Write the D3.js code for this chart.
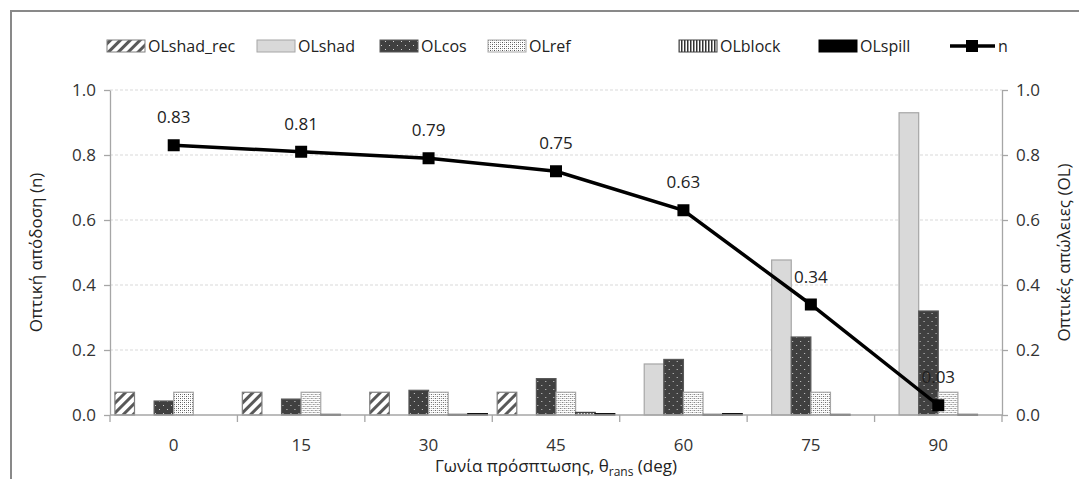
<!DOCTYPE html>
<html>
<head>
<meta charset="utf-8">
<script src="https://cdn.jsdelivr.net/npm/d3@7"></script>
<style>
  html, body { margin: 0; padding: 0; background: #fff; }
  svg { display: block; font-family: "Open Sans", "Noto Sans", sans-serif; }
</style>
</head>
<body>
<svg id="chart" width="1079" height="479"></svg>
<script>
// Incidence angles (deg)
const categories = ["0", "15", "30", "45", "60", "75", "90"];

// Optical loss components (right axis)
const OLshad_rec = [0.07, 0.07, 0.07, 0.07, 0, 0, 0];
const OLshad     = [0, 0, 0, 0, 0.157, 0.477, 0.93];
const OLcos      = [0.043, 0.049, 0.076, 0.112, 0.171, 0.24, 0.32];
const OLref      = [0.07, 0.07, 0.07, 0.07, 0.07, 0.07, 0.07];
const OLblock    = [0, 0.002, 0.002, 0.008, 0.002, 0.002, 0.002];
const OLspill    = [0, 0, 0.004, 0.004, 0.004, 0, 0];

// Optical efficiency (left axis)
const nValues = [0.83, 0.81, 0.79, 0.75, 0.63, 0.34, 0.03];

const yTicks = [0, 0.2, 0.4, 0.6, 0.8, 1.0];

const seriesNames = ["OLshad_rec", "OLshad", "OLcos", "OLref", "OLblock", "OLspill"];
const seriesValues = [OLshad_rec, OLshad, OLcos, OLref, OLblock, OLspill];
const seriesFill = ["url(#pHatch)", "#d9d9d9", "url(#pCos)", "url(#pRef)", "url(#pBlock)", "#000"];
const seriesStroke = ["#7f7f7f", "#a6a6a6", "#595959", "#a6a6a6", "#404040", "#000"];

const svg = d3.select("#chart");
const defs = svg.append("defs");

// Wide upward diagonal hatch
const ph = defs.append("pattern").attr("id", "pHatch").attr("patternUnits", "userSpaceOnUse")
  .attr("width", 7).attr("height", 7).attr("patternTransform", "rotate(45)");
ph.append("rect").attr("width", 7).attr("height", 7).attr("fill", "#fff");
ph.append("rect").attr("x", 0).attr("width", 3).attr("height", 7).attr("fill", "#595959");

// Dark fill with sparse light dots
const pc = defs.append("pattern").attr("id", "pCos").attr("patternUnits", "userSpaceOnUse")
  .attr("width", 8).attr("height", 8);
pc.append("rect").attr("width", 8).attr("height", 8).attr("fill", "#404040");
pc.append("rect").attr("x", 1).attr("y", 1).attr("width", 1).attr("height", 1).attr("fill", "#d0d0d0");
pc.append("rect").attr("x", 5).attr("y", 5).attr("width", 1).attr("height", 1).attr("fill", "#d0d0d0");

// Light fill with dense dark dots
const pr = defs.append("pattern").attr("id", "pRef").attr("patternUnits", "userSpaceOnUse")
  .attr("width", 4).attr("height", 4);
pr.append("rect").attr("width", 4).attr("height", 4).attr("fill", "#fff");
pr.append("rect").attr("x", 0).attr("y", 0).attr("width", 1).attr("height", 1).attr("fill", "#555");
pr.append("rect").attr("x", 2).attr("y", 2).attr("width", 1).attr("height", 1).attr("fill", "#555");
pr.append("rect").attr("x", 2).attr("y", 0).attr("width", 1).attr("height", 1).attr("fill", "#aaa");
pr.append("rect").attr("x", 0).attr("y", 2).attr("width", 1).attr("height", 1).attr("fill", "#aaa");

// Narrow vertical stripes
const pb = defs.append("pattern").attr("id", "pBlock").attr("patternUnits", "userSpaceOnUse")
  .attr("width", 3).attr("height", 3);
pb.append("rect").attr("width", 3).attr("height", 3).attr("fill", "#fff");
pb.append("rect").attr("width", 1.5).attr("height", 3).attr("fill", "#333");

// Outer chart frame
svg.append("rect").attr("x", 11).attr("y", 11).attr("width", 1100).attr("height", 500)
  .attr("fill", "none").attr("stroke", "#898989").attr("stroke-width", 2);

const plot = { left: 110, right: 1002, top: 90, bottom: 415 };

const x0 = d3.scaleBand().domain(categories).range([plot.left, plot.right]).padding(0);
const x1 = d3.scaleBand().domain(seriesNames).range([0, x0.bandwidth()])
  .paddingInner(0).paddingOuter(0.25);
const yL = d3.scaleLinear().domain([0, 1]).range([plot.bottom, plot.top]);
const yR = d3.scaleLinear().domain([0, 1]).range([plot.bottom, plot.top]);

// Gridlines
svg.append("g").selectAll("line").data(yTicks.filter(d => d > 0)).join("line")
  .attr("x1", plot.left).attr("x2", plot.right)
  .attr("y1", d => yL(d)).attr("y2", d => yL(d))
  .attr("stroke", "#d9d9d9").attr("stroke-width", 1).attr("stroke-dasharray", "3,2");

// Bars
const groups = svg.append("g").selectAll("g").data(categories).join("g")
  .attr("transform", c => `translate(${x0(c)},0)`);
groups.selectAll("rect")
  .data((c, i) => seriesNames.map((s, k) => ({ s, k, v: seriesValues[k][i] })))
  .join("rect")
  .filter(d => d.v > 0)
  .attr("x", d => x1(d.s))
  .attr("width", x1.bandwidth())
  .attr("y", d => yR(d.v))
  .attr("height", d => Math.max(1, yR(0) - yR(d.v)))
  .attr("fill", d => seriesFill[d.k])
  .attr("stroke", d => seriesStroke[d.k])
  .attr("stroke-width", 1.2);

// Axes
const axisStyle = g => {
  g.selectAll("path.domain").attr("stroke", "#a6a6a6").attr("stroke-width", 1.3);
  g.selectAll(".tick line").attr("stroke", "#a6a6a6").attr("stroke-width", 1.3);
  g.selectAll("text").attr("fill", "#333").style("font-size", "17px")
    .style("font-family", "'Open Sans', 'Noto Sans', sans-serif");
};

svg.append("g").attr("transform", `translate(${plot.left},0)`)
  .call(d3.axisLeft(yL).tickValues(yTicks).tickFormat(d3.format(".1f")).tickSize(6).tickSizeOuter(0).tickPadding(8))
  .call(axisStyle);

svg.append("g").attr("transform", `translate(${plot.right},0)`)
  .call(d3.axisRight(yR).tickValues(yTicks).tickFormat(d3.format(".1f")).tickSize(6).tickSizeOuter(0).tickPadding(8))
  .call(axisStyle);

// Category axis: ticks between groups, labels centred under groups
const xg = svg.append("g").attr("transform", `translate(0,${plot.bottom})`);
xg.append("line").attr("x1", plot.left).attr("x2", plot.right)
  .attr("stroke", "#a6a6a6").attr("stroke-width", 1.3);
const boundaries = categories.map(c => x0(c)).concat([plot.right]);
xg.selectAll("line.tk").data(boundaries).join("line").attr("class", "tk")
  .attr("x1", d => d).attr("x2", d => d).attr("y1", 0).attr("y2", 7)
  .attr("stroke", "#a6a6a6").attr("stroke-width", 1.3);
xg.selectAll("text").data(categories).join("text")
  .attr("x", c => x0(c) + x0.bandwidth() / 2).attr("y", 36)
  .attr("text-anchor", "middle").attr("fill", "#333").style("font-size", "17px")
  .text(c => c);

// Efficiency line with square markers
const cx = i => x0(categories[i]) + x0.bandwidth() / 2;
svg.append("path")
  .datum(nValues)
  .attr("d", d3.line().x((d, i) => cx(i)).y(d => yL(d)))
  .attr("fill", "none").attr("stroke", "#000").attr("stroke-width", 3.5);
svg.append("g").selectAll("rect").data(nValues).join("rect")
  .attr("x", (d, i) => cx(i) - 6).attr("y", d => yL(d) - 6)
  .attr("width", 12).attr("height", 12).attr("fill", "#000");
svg.append("g").selectAll("text").data(nValues).join("text")
  .attr("x", (d, i) => cx(i)).attr("y", d => yL(d) - 22)
  .attr("text-anchor", "middle").attr("fill", "#222").style("font-size", "17px")
  .text(d => d3.format(".2f")(d));

// Axis titles
svg.append("text")
  .attr("transform", `translate(42,${(plot.top + plot.bottom) / 2}) rotate(-90)`)
  .attr("text-anchor", "middle").attr("fill", "#222").style("font-size", "17px")
  .text("Οπτική απόδοση (n)");
svg.append("text")
  .attr("transform", `translate(1070,${(plot.top + plot.bottom) / 2}) rotate(-90)`)
  .attr("text-anchor", "middle").attr("fill", "#222").style("font-size", "17px")
  .text("Οπτικές απώλειες (OL)");

const xt = svg.append("text")
  .attr("x", (plot.left + plot.right) / 2).attr("y", 472)
  .attr("text-anchor", "middle").attr("fill", "#222").style("font-size", "17px");
xt.append("tspan").text("Γωνία πρόσπτωσης, θ");
xt.append("tspan").attr("dy", 4).style("font-size", "12px").text("rans");
xt.append("tspan").attr("dy", -4).text(" (deg)");

// Legend
const legendX = [107, 257, 380, 488, 679, 819];
const leg = svg.append("g");
seriesNames.forEach((s, k) => {
  leg.append("rect").attr("x", legendX[k]).attr("y", 40).attr("width", 38).attr("height", 12)
    .attr("fill", seriesFill[k]).attr("stroke", seriesStroke[k]).attr("stroke-width", 1);
  leg.append("text").attr("x", legendX[k] + 41).attr("y", 52)
    .attr("fill", "#222").style("font-size", "16px").text(s);
});
leg.append("line").attr("x1", 950).attr("x2", 995).attr("y1", 46).attr("y2", 46)
  .attr("stroke", "#000").attr("stroke-width", 3.5);
leg.append("rect").attr("x", 966).attr("y", 40).attr("width", 12).attr("height", 12).attr("fill", "#000");
leg.append("text").attr("x", 998).attr("y", 52).attr("fill", "#222").style("font-size", "16px").text("n");
</script>
</body>
</html>
